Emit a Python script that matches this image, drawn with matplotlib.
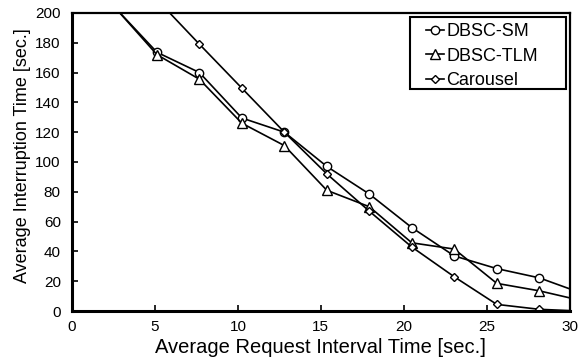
import numpy as np
import matplotlib
matplotlib.use("Agg")
import matplotlib.pyplot as plt
from matplotlib.patches import Rectangle

# request interval [sec.]
interval = [2.56, 5.12, 7.68, 10.24, 12.8, 15.36, 17.92, 20.48, 23.04, 25.6, 28.16, 30.72]

# average interruption time [sec.]
dbsc_sm = [204, 173.6, 160, 129.5, 120, 97, 78.5, 56, 37, 28.5, 22.3, 12]
dbsc_tlm = [204, 172, 155.5, 126, 111, 81, 70, 45.8, 41.6, 18.6, 13.6, 7]
carousel = [np.nan, 209, 179, 149.5, 120, 92, 67, 43, 23, 4.5, 1.2, 0]

series = [
    ("DBSC-SM", dbsc_sm, "o", 6),
    ("DBSC-TLM", dbsc_tlm, "^", 6.5),
    ("Carousel", carousel, "D", 4.3),
]

plt.rcParams["font.family"] = ["Liberation Sans", "DejaVu Sans"]

fig = plt.figure(figsize=(5.85, 3.58), dpi=100)
ax = fig.add_axes([0.123, 0.131, 0.851, 0.833])

for label, vals, mk, ms in series:
    ax.plot(interval, vals, color="black", lw=1.2, marker=mk, ms=ms,
            mfc="white", mec="black", mew=1.0, label=label)

ax.set_xlim(0, 30)
ax.set_ylim(0, 200)
ax.set_xticks(range(0, 31, 5))
ax.set_yticks(range(0, 201, 20))
ax.tick_params(axis="x", direction="in", length=4, width=1.2, labelsize=11, pad=6.5)
ax.tick_params(axis="y", direction="in", length=4, width=1.2, labelsize=11, pad=8)

for side in ["left", "bottom"]:
    ax.spines[side].set_linewidth(2.2)
for side in ["top", "right"]:
    ax.spines[side].set_linewidth(1.6)

ax.set_xlabel("Average Request Interval Time [sec.]", fontsize=14.5, va="top")
ax.xaxis.set_label_coords(0.5, -0.09)
ax.set_ylabel("Average Interruption Time [sec.]", fontsize=13, va="center")
ax.yaxis.set_label_coords(-0.1, 0.52)

# legend box drawn separately (Excel-style wide frame)
ax.add_patch(Rectangle((0.679, 0.745), 0.313, 0.242, transform=ax.transAxes,
                       facecolor="white", edgecolor="black", lw=1.5, zorder=4))
leg = ax.legend(loc="upper left", bbox_to_anchor=(0.712, 0.966), fontsize=13,
                handlelength=1.0, handletextpad=0.1, borderpad=0,
                labelspacing=0.42, borderaxespad=0, frameon=False)
leg.set_zorder(5)

fig.savefig("out.png", dpi=100)
